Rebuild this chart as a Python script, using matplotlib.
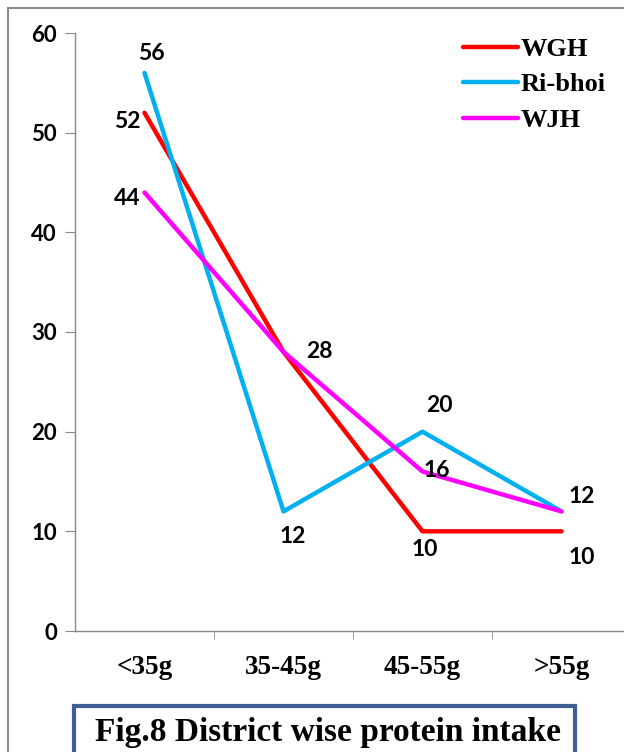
import matplotlib.pyplot as plt
from matplotlib.patches import Rectangle

categories = ['<35g', '35-45g', '45-55g', '>55g']
wgh = [52, 28, 10, 10]
ribhoi = [56, 12, 20, 12]
wjh = [44, 28, 16, 12]

# which value to print next to each point: (series, index, offset in points, ha)
labels = [
    (wgh, 0, (-3, -6), 'right'),
    (ribhoi, 0, (5, 14), 'center'),
    (wjh, 0, (-3, -4), 'right'),
    (wgh, 1, (16, 0), 'left'),
    (ribhoi, 1, (7, -18), 'center'),
    (ribhoi, 2, (12, 19), 'center'),
    (wjh, 2, (1, 1), 'left'),
    (wgh, 2, (2, -13), 'center'),
    (wjh, 3, (5, 11), 'left'),
    (wgh, 3, (5, -19), 'left'),
]

sans = ['Lato', 'DejaVu Sans']
serif = ['Liberation Serif', 'DejaVu Serif']

fig = plt.figure(figsize=(6.24, 7.52), dpi=100)
ax = fig.add_axes([75 / 624, 121 / 752, 556 / 624, 598 / 752])

x = range(len(categories))
ax.plot(x, wgh, color='#FF0000', lw=3.2, label='WGH', solid_capstyle='round')
ax.plot(x, ribhoi, color='#00B0F0', lw=3.2, label='Ri-bhoi', solid_capstyle='round')
ax.plot(x, wjh, color='#FF00FF', lw=3.2, label='WJH', solid_capstyle='round')

for series, i, off, ha in labels:
    ax.annotate(str(series[i]), (i, series[i]), xytext=off, textcoords='offset points',
                ha=ha, va='center', fontsize=16.5, fontweight='bold', family=sans)

ax.set_xlim(-0.5, 3.5)
ax.set_ylim(0, 60)
ax.set_yticks(range(0, 61, 10))
ax.set_xticks(list(x))
ax.set_xticklabels(categories, family=serif, fontweight='bold', fontsize=19.5)
ax.set_xticks([0.5, 1.5, 2.5], minor=True)
ax.tick_params(axis='x', which='major', length=0, pad=17)
ax.tick_params(axis='x', which='minor', length=6, color='#888888', direction='out')
ax.tick_params(axis='y', length=7, color='#888888', pad=6)
for t in ax.get_yticklabels():
    t.set_family(sans)
    t.set_fontweight('bold')
    t.set_fontsize(16)

for s in ['top', 'right']:
    ax.spines[s].set_visible(False)
for s in ['left', 'bottom']:
    ax.spines[s].set_color('#888888')
    ax.spines[s].set_linewidth(1.0)

leg = ax.legend(loc='upper left', bbox_to_anchor=(0.655, 1.032), frameon=False,
                prop={'family': serif, 'weight': 'bold', 'size': 19},
                handlelength=2.1, handletextpad=0.08, labelspacing=0.45)

# outer chart frame
fig.patches.append(Rectangle((8 / 624, -0.1), 1.1, (752 - 8) / 752 + 0.1,
                             transform=fig.transFigure, fill=False,
                             edgecolor='#8C8C8C', lw=1.5))

# caption box
fig.patches.append(Rectangle((74 / 624, -0.05), (575 - 74) / 624, (752 - 706) / 752 + 0.05,
                             transform=fig.transFigure, fill=False,
                             edgecolor='#3F6095', lw=3))
fig.text(95 / 624, (752 - 732) / 752, 'Fig.8 District wise protein intake',
         ha='left', va='center', fontsize=24, fontweight='bold', family=serif)

fig.savefig('out.png', dpi=100)
